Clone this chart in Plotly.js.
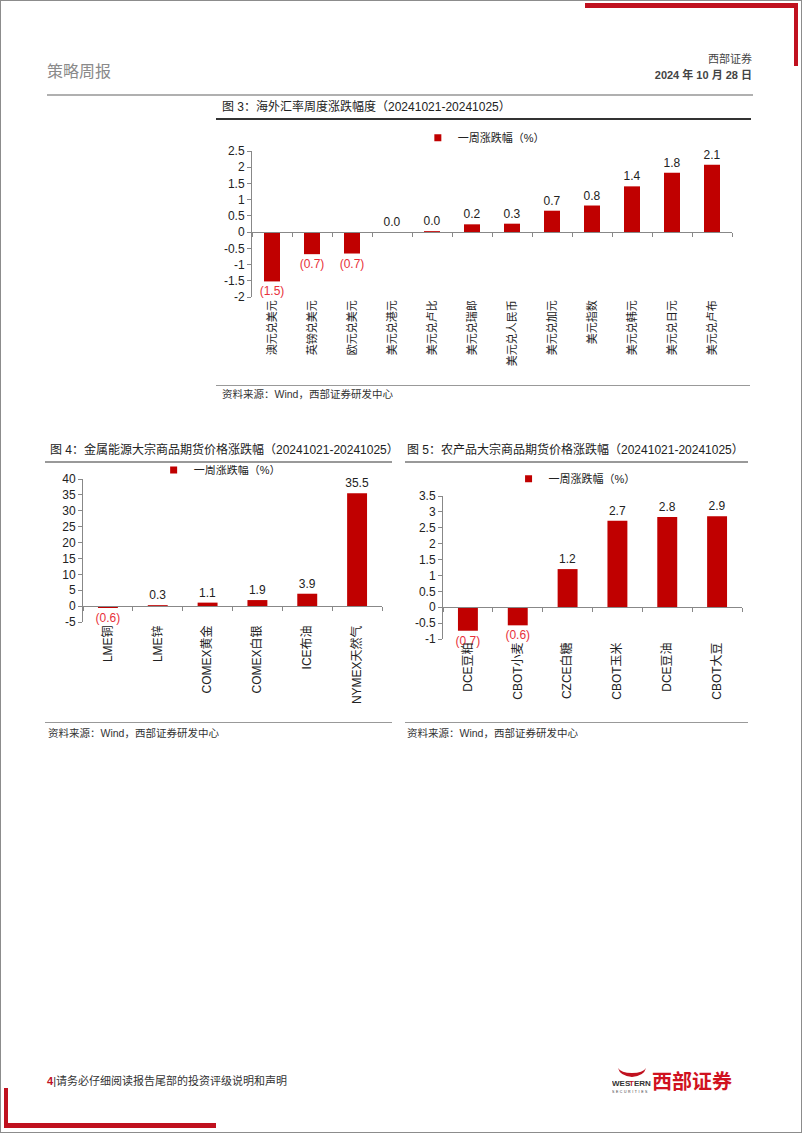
<!DOCTYPE html>
<html><head><meta charset="utf-8">
<script src="https://cdn.plot.ly/plotly-3.0.1.min.js"></script>
<style>
html,body{margin:0;padding:0;background:#fff;}
#page{position:relative;width:802px;height:1133px;overflow:hidden;font-family:"Liberation Sans","Noto Sans CJK SC",sans-serif;}
.abs{position:absolute;white-space:nowrap;line-height:1;}
.bar{position:absolute;}
.chart{position:absolute;}
</style></head>
<body><div id="page">
<div class="bar" style="left:0;top:0;width:800px;height:1131px;border:1px solid #8c8c8c;"></div>
<div class="bar" style="left:585px;top:3px;width:213px;height:5px;background:#c0111f;"></div>
<div class="bar" style="left:794px;top:3px;width:4px;height:63px;background:#c0111f;"></div>
<div class="bar" style="left:4px;top:1088px;width:4px;height:40px;background:#c0111f;"></div>
<div class="bar" style="left:4px;top:1123px;width:212px;height:5px;background:#c0111f;"></div>

<div class="abs" style="left:47px;top:64px;font-size:16px;color:#8a8a8a;">策略周报</div>
<div class="abs" style="right:50px;top:54px;font-size:11px;color:#444;">西部证券</div>
<div class="abs" style="right:50px;top:70px;font-size:11px;font-weight:bold;color:#444;">2024 年 10 月 28 日</div>
<div class="bar" style="left:47px;top:94px;width:706px;height:2px;background:#b0b0b0;"></div>

<div class="abs" style="left:222px;top:101px;font-size:12px;color:#222;">图 3：海外汇率周度涨跌幅度（20241021-20241025）</div>
<div class="bar" style="left:216px;top:118px;width:535px;height:1.5px;background:#333;"></div>
<div id="c1" class="chart" style="left:216px;top:122px;width:536px;height:258px;"></div>
<div class="bar" style="left:216px;top:385px;width:534px;height:1px;background:#999;"></div>
<div class="abs" style="left:222px;top:389px;font-size:10.5px;color:#333;">资料来源：Wind，西部证券研发中心</div>

<div class="abs" style="left:50px;top:444px;font-size:12px;color:#222;">图 4：金属能源大宗商品期货价格涨跌幅（20241021-20241025）</div>
<div class="bar" style="left:45px;top:461px;width:347px;height:1.5px;background:#999;"></div>
<div id="c2" class="chart" style="left:45px;top:465px;width:347px;height:255px;"></div>
<div class="bar" style="left:45px;top:722px;width:347px;height:1px;background:#999;"></div>
<div class="abs" style="left:48px;top:728px;font-size:10.5px;color:#333;">资料来源：Wind，西部证券研发中心</div>

<div class="abs" style="left:407px;top:444px;font-size:12px;color:#222;">图 5：农产品大宗商品期货价格涨跌幅（20241021-20241025）</div>
<div class="bar" style="left:405px;top:461px;width:343px;height:1.5px;background:#999;"></div>
<div id="c3" class="chart" style="left:405px;top:465px;width:345px;height:255px;"></div>
<div class="bar" style="left:405px;top:722px;width:343px;height:1px;background:#999;"></div>
<div class="abs" style="left:407px;top:728px;font-size:10.5px;color:#333;">资料来源：Wind，西部证券研发中心</div>

<div class="abs" style="left:47px;top:1076px;font-size:11px;color:#333;"><span style="color:#c0111f;font-weight:bold;">4</span>|请务必仔细阅读报告尾部的投资评级说明和声明</div>
<svg class="bar" style="left:612px;top:1066px;" width="40" height="30" viewBox="0 0 40 30">
<path d="M6,2 Q8,10 20,11 Q32,10 34,2 Q31,7 20,7 Q9,7 6,2Z" fill="#c0111f"/>
<text x="0" y="20" font-family="Liberation Sans" font-weight="bold" font-size="8" fill="#333">WES</text>
<text x="17" y="20" font-family="Liberation Sans" font-weight="bold" font-size="8" fill="#c0111f">T</text>
<text x="22" y="20" font-family="Liberation Sans" font-weight="bold" font-size="8" fill="#333">ERN</text>
<text x="0" y="27" font-family="Liberation Sans" font-size="3.5" fill="#333" letter-spacing="1.6">SECURITIES</text>
</svg>
<div class="abs" style="left:652px;top:1072px;font-size:20px;font-weight:bold;color:#d0121f;">西部证券</div>
</div>
<script>
// ---- data ----
const seriesName = '一周涨跌幅（%）';
const fxCats = ['澳元兑美元','英镑兑美元','欧元兑美元','美元兑港元','美元兑卢比','美元兑瑞郎','美元兑人民币','美元兑加元','美元指数','美元兑韩元','美元兑日元','美元兑卢布'];
const fxVals = [-1.52,-0.68,-0.66,0.004,0.03,0.24,0.26,0.66,0.82,1.41,1.83,2.08];
const fxTicks = [-2,-1.5,-1,-0.5,0,0.5,1,1.5,2,2.5];

const metCats = ['LME铜','LME锌','COMEX黄金','COMEX白银','ICE布油','NYMEX天然气'];
const metVals = [-0.6,0.3,1.1,1.9,3.9,35.5];
const metTicks = [-5,0,5,10,15,20,25,30,35,40];

const agCats = ['DCE豆粕','CBOT小麦','CZCE白糖','CBOT玉米','DCE豆油','CBOT大豆'];
const agVals = [-0.74,-0.57,1.2,2.72,2.84,2.86];
const agTicks = [-1,-0.5,0,0.5,1,1.5,2,2.5,3,3.5];

const BAR = '#c00000', NEG = '#e8303a';
const FONT = '"Liberation Sans","Noto Sans CJK SC",sans-serif';

function fmt(v){ return v < 0 ? '(' + Math.abs(v).toFixed(1) + ')' : v.toFixed(1); }

function draw(id, cats, vals, ticks, opt){
  const ymin = ticks[0], ymax = ticks[ticks.length-1];
  const n = cats.length;
  const bounds = [];
  for (let i = 0; i <= n; i++) bounds.push(i - 0.5);
  const traces = [
    {type:'bar', x:cats, y:vals, marker:{color:BAR}, showlegend:false,
     text: vals.map(fmt), textposition:'outside', constraintext:'none', cliponaxis:false,
     textfont:{family:FONT, size:opt.lab, color: vals.map(v => v < 0 ? NEG : '#222')},
     hoverinfo:'skip'},
    {type:'scatter', mode:'markers', x:[null], y:[null], name:seriesName,
     marker:{symbol:'square', size:7, color:BAR}, showlegend:true, hoverinfo:'skip'},
    {type:'scatter', mode:'markers', x:[null], y:[null], xaxis:'x2', showlegend:false, hoverinfo:'skip'}
  ];
  const m = Object.assign({autoexpand:false}, opt.m);
  const layout = {
    width: opt.w, height: opt.h,
    margin: m,
    paper_bgcolor:'rgba(0,0,0,0)', plot_bgcolor:'rgba(0,0,0,0)',
    font:{family:FONT, color:'#222'},
    bargap: 0.6,
    showlegend: true,
    legend:{orientation:'h', x:opt.lx, xanchor:'center', y:opt.ly, yanchor:'middle',
            font:{family:FONT, size:11, color:'#222'}, itemwidth:30, bgcolor:'rgba(0,0,0,0)'},
    xaxis:{type:'category', categoryorder:'array', categoryarray:cats, range:[-0.5, n-0.5],
           tickangle:-90, ticks:'', showline:false, showgrid:false, zeroline:false, automargin:false,
           tickfont:{family:FONT, size:opt.xf, color:'#222'}, fixedrange:true},
    xaxis2:{overlaying:'x', anchor:'free', position:(0 - ymin)/(ymax - ymin), range:[-0.5, n-0.5],
            tickmode:'array', tickvals:bounds, ticks:'outside', ticklen:4, tickcolor:'#888',
            showticklabels:false, showline:true, linecolor:'#888', linewidth:1,
            showgrid:false, zeroline:false, fixedrange:true},
    yaxis:{range:[ymin, ymax], tickmode:'array', tickvals:ticks, ticktext:ticks.map(String),
           ticks:'outside', ticklen:4, tickcolor:'#888', showline:true, linecolor:'#888', automargin:false,
           showgrid:false, zeroline:false, tickfont:{family:FONT, size:opt.yf, color:'#222'}, fixedrange:true}
  };
  Plotly.newPlot(id, traces, layout, {displayModeBar:false, staticPlot:true});
}

draw('c1', fxCats, fxVals, fxTicks, {w:536, h:258, m:{l:36, r:20, t:29, b:83}, lx:0.483, ly:1.09, lab:12, xf:11, yf:12});
draw('c2', metCats, metVals, metTicks, {w:347, h:255, m:{l:38, r:10, t:14, b:98}, lx:0.457, ly:1.063, lab:12, xf:12, yf:12});
draw('c3', agCats, agVals, agTicks, {w:345, h:255, m:{l:38, r:8, t:31, b:81}, lx:0.44, ly:1.12, lab:12, xf:12, yf:12});
</script>
</body></html>
